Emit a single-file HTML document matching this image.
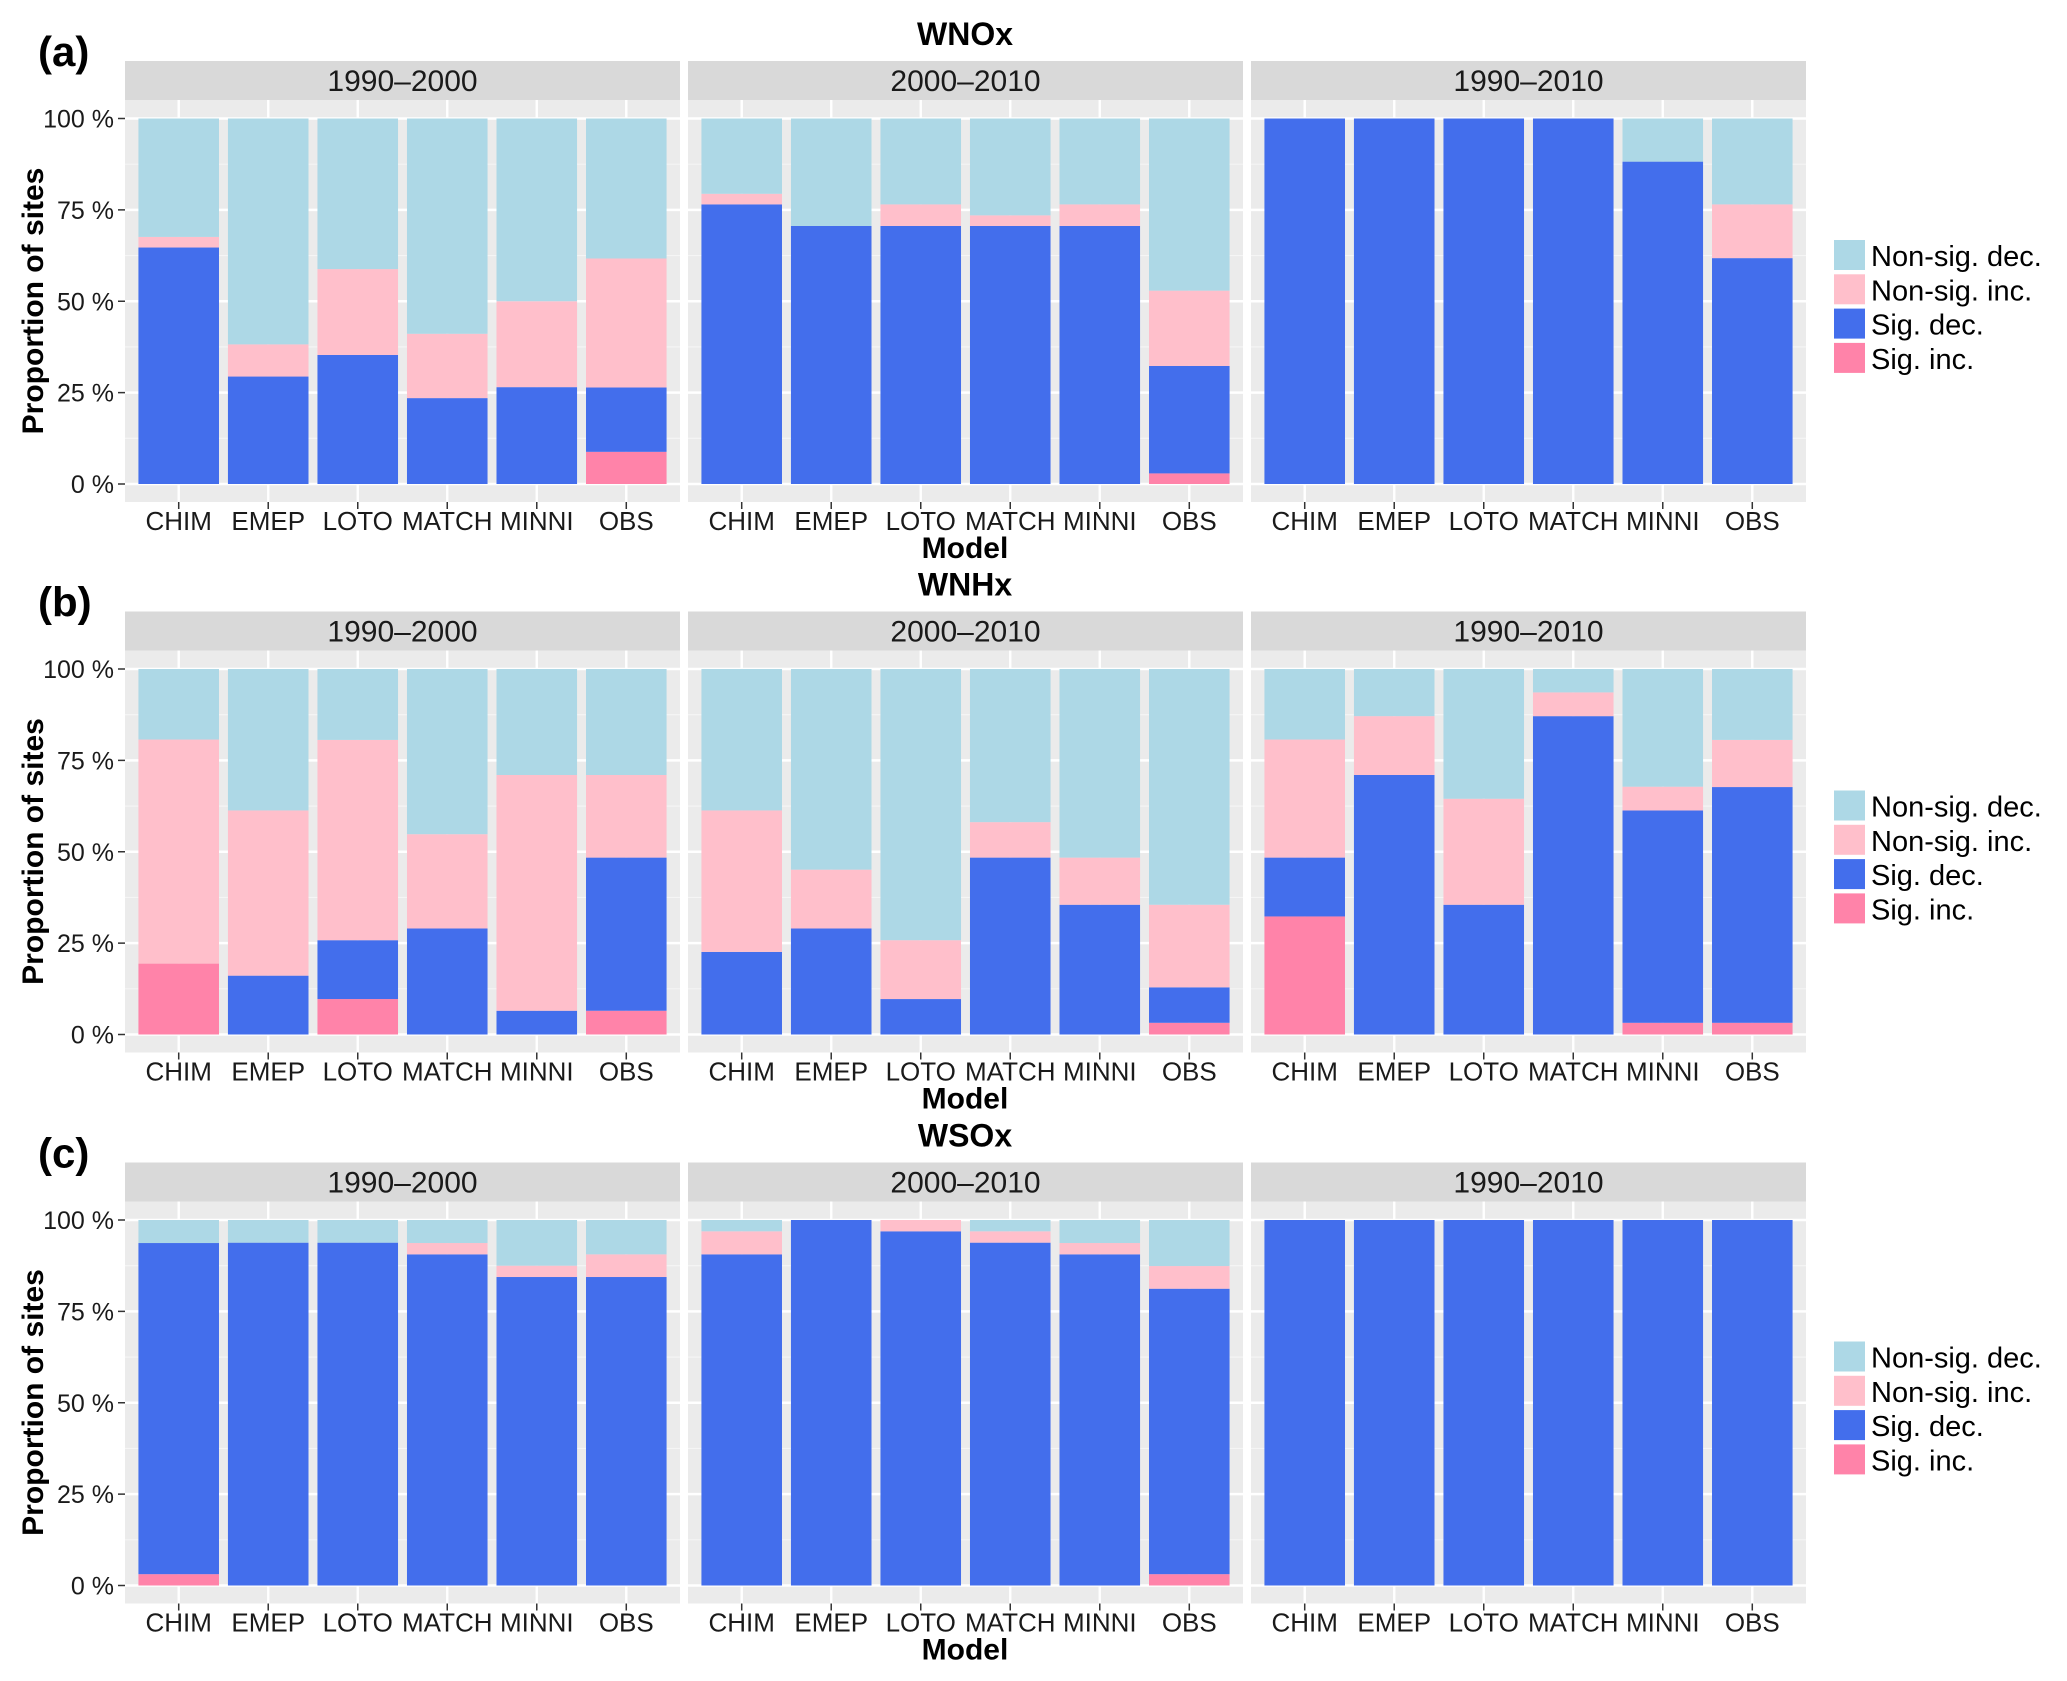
<!DOCTYPE html>
<html><head><meta charset="utf-8">
<style>
html,body{margin:0;padding:0;background:#fff;}
svg{display:block;font-family:"Liberation Sans",Arial,sans-serif;}
</style></head>
<body>
<svg id="chart" width="2067" height="1681" viewBox="0 0 2067 1681" xmlns="http://www.w3.org/2000/svg"></svg>
<script>
const models = ["CHIM","EMEP","LOTO","MATCH","MINNI","OBS"];
const periods = ["1990–2000","2000–2010","1990–2010"];
const species = ["WNOx","WNHx","WSOx"];
const panelLetters = ["(a)","(b)","(c)"];
const yTicks = [0,0.25,0.5,0.75,1];
const yTickLabels = ["0 %","25 %","50 %","75 %","100 %"];
const seriesNames = ["Sig. inc.","Sig. dec.","Non-sig. inc.","Non-sig. dec."];
const legendNames = ["Non-sig. dec.","Non-sig. inc.","Sig. dec.","Sig. inc."];

// Segment proportions (%), stacked bottom-up: sig inc, sig dec, non-sig inc, remainder = non-sig dec
// WNOx
const wnoxSigInc = [[0,0,0,0,0,8.8],[0,0,0,0,0,2.9],[0,0,0,0,0,0]];
const wnoxSigDec = [[64.7,29.4,35.3,23.5,26.5,17.6],[76.5,70.6,70.6,70.6,70.6,29.4],[100,100,100,100,88.2,61.8]];
const wnoxNonInc = [[2.9,8.8,23.5,17.6,23.5,35.3],[2.9,0,5.9,2.9,5.9,20.6],[0,0,0,0,0,14.7]];
// WNHx
const wnhxSigInc = [[19.4,0,9.7,0,0,6.5],[0,0,0,0,0,3.2],[32.3,0,0,0,3.2,3.2]];
const wnhxSigDec = [[0,16.1,16.1,29.0,6.5,41.9],[22.6,29.0,9.7,48.4,35.5,9.7],[16.1,71.0,35.5,87.1,58.1,64.5]];
const wnhxNonInc = [[61.3,45.2,54.8,25.8,64.5,22.6],[38.7,16.1,16.1,9.7,12.9,22.6],[32.3,16.1,29.0,6.5,6.5,12.9]];
// WSOx
const wsoxSigInc = [[3.1,0,0,0,0,0],[0,0,0,0,0,3.1],[0,0,0,0,0,0]];
const wsoxSigDec = [[90.6,93.8,93.8,90.6,84.4,84.4],[90.6,100,96.9,93.8,90.6,78.1],[100,100,100,100,100,100]];
const wsoxNonInc = [[0,0,0,3.1,3.1,6.2],[6.3,0,3.1,3.1,3.1,6.2],[0,0,0,0,0,0]];

const sigIncAll = [wnoxSigInc,wnhxSigInc,wsoxSigInc];
const sigDecAll = [wnoxSigDec,wnhxSigDec,wsoxSigDec];
const nonIncAll = [wnoxNonInc,wnhxNonInc,wsoxNonInc];

const colors = {"Non-sig. dec.":"#ADD8E6","Non-sig. inc.":"#FFBFCB","Sig. dec.":"#436EEC","Sig. inc.":"#FF83A9"};
const NS="http://www.w3.org/2000/svg";
const svg=document.getElementById('chart');
function mk(tag,attrs,parent){const e=document.createElementNS(NS,tag);for(const k in attrs)e.setAttribute(k,attrs[k]);(parent||svg).appendChild(e);return e;}

const rowOff=[0,550.5,1101.5];
const panelX0=125, panelW=555, panelStep=563;
function yScale(v,r){return 484+rowOff[r]-(v)*(484-118.5);}
function xCenter(i,p){const step=panelW/6.2;return panelX0+p*panelStep+(0.6+i)*step;}
const barW=panelW/6.2*0.9;

for(let r=0;r<3;r++){
  const off=rowOff[r];
  const g=mk('g',{});
  
  
  const lt=mk('text',{x:38,y:66+off,'font-size':42,'font-weight':'bold',fill:'#000'},g);
  lt.textContent=panelLetters[r];
  
  
  const tt=mk('text',{x:965,y:45+off,'font-size':32,'font-weight':'bold','text-anchor':'middle'},g);
  tt.textContent=species[r];
  
  
  const yt=mk('text',{x:0,y:0,'font-size':30,'font-weight':'bold','text-anchor':'middle',transform:`translate(43,${301+off}) rotate(-90)`},g);
  yt.textContent='Proportion of sites';
  
  
  const xt=mk('text',{x:965,y:558+off,'font-size':30,'font-weight':'bold','text-anchor':'middle'},g);
  xt.textContent='Model';
  
  
  yTicks.forEach((t,k)=>{
    const y=yScale(t,r);
    const tl=mk('text',{x:114,y:y+9,'font-size':25,'text-anchor':'end',fill:'#1a1a1a'},g);
    tl.textContent=yTickLabels[k];
    
    
    mk('line',{x1:118,x2:125,y1:y,y2:y,stroke:'#333','stroke-width':1.5},g);
  });
  for(let p=0;p<3;p++){
    const px=panelX0+p*panelStep;
    const st=mk('rect',{x:px,y:61+off,width:panelW,height:39,fill:'#D9D9D9'},g);
    
    
    const stt=mk('text',{x:px+panelW/2,y:91+off,'font-size':30,'text-anchor':'middle',fill:'#1a1a1a'},g);
    stt.textContent=periods[p];
    
    
    const bg=mk('rect',{x:px,y:100+off,width:panelW,height:402,fill:'#EBEBEB'},g);
    
    
    for(let m=0;m<4;m++){const v=0.125+m*0.25;const y=yScale(v,r);mk('line',{x1:px,x2:px+panelW,y1:y,y2:y,stroke:'#F5F5F5','stroke-width':1.2},g);}
    yTicks.forEach(t=>{const y=yScale(t,r);mk('line',{x1:px,x2:px+panelW,y1:y,y2:y,stroke:'#fff','stroke-width':2.4},g);});
    models.forEach((m,i)=>{const x=xCenter(i,p);mk('line',{x1:x,x2:x,y1:100+off,y2:502+off,stroke:'#fff','stroke-width':2.4},g);});
    models.forEach((m,i)=>{
      const x=xCenter(i,p);
      const si=sigIncAll[r][p][i], sd=sigDecAll[r][p][i], ni=nonIncAll[r][p][i];
      const nd=Math.max(0,100-si-sd-ni);
      const segs=[["Sig. inc.",si],["Sig. dec.",sd],["Non-sig. inc.",ni],["Non-sig. dec.",nd]];
      let cum=0;
      segs.forEach(([name,v])=>{
        if(v<=0)return;
        const y1=yScale((cum+v)/100,r), y0=yScale(cum/100,r);
        const b=mk('rect',{x:x-barW/2,y:y1,width:barW,height:y0-y1,fill:colors[name]},g);
        
        
        cum+=v;
      });
      mk('line',{x1:x,x2:x,y1:502+off,y2:509+off,stroke:'#333','stroke-width':1.5},g);
      const xl=mk('text',{x:x,y:530+off,'font-size':26,'text-anchor':'middle',fill:'#1a1a1a'},g);
      xl.textContent=m;
      
      
    });
  }
  const lg=mk('g',{},g);
  
  
  legendNames.forEach((n,k)=>{
    const y=240+off+k*34.3;
    mk('rect',{x:1834,y:y,width:31,height:30,fill:colors[n]},lg);
    const t=mk('text',{x:1871,y:y+26,'font-size':29,fill:'#000'},lg);
    t.textContent=n;
    
    
  });
}
</script>
</body></html>
